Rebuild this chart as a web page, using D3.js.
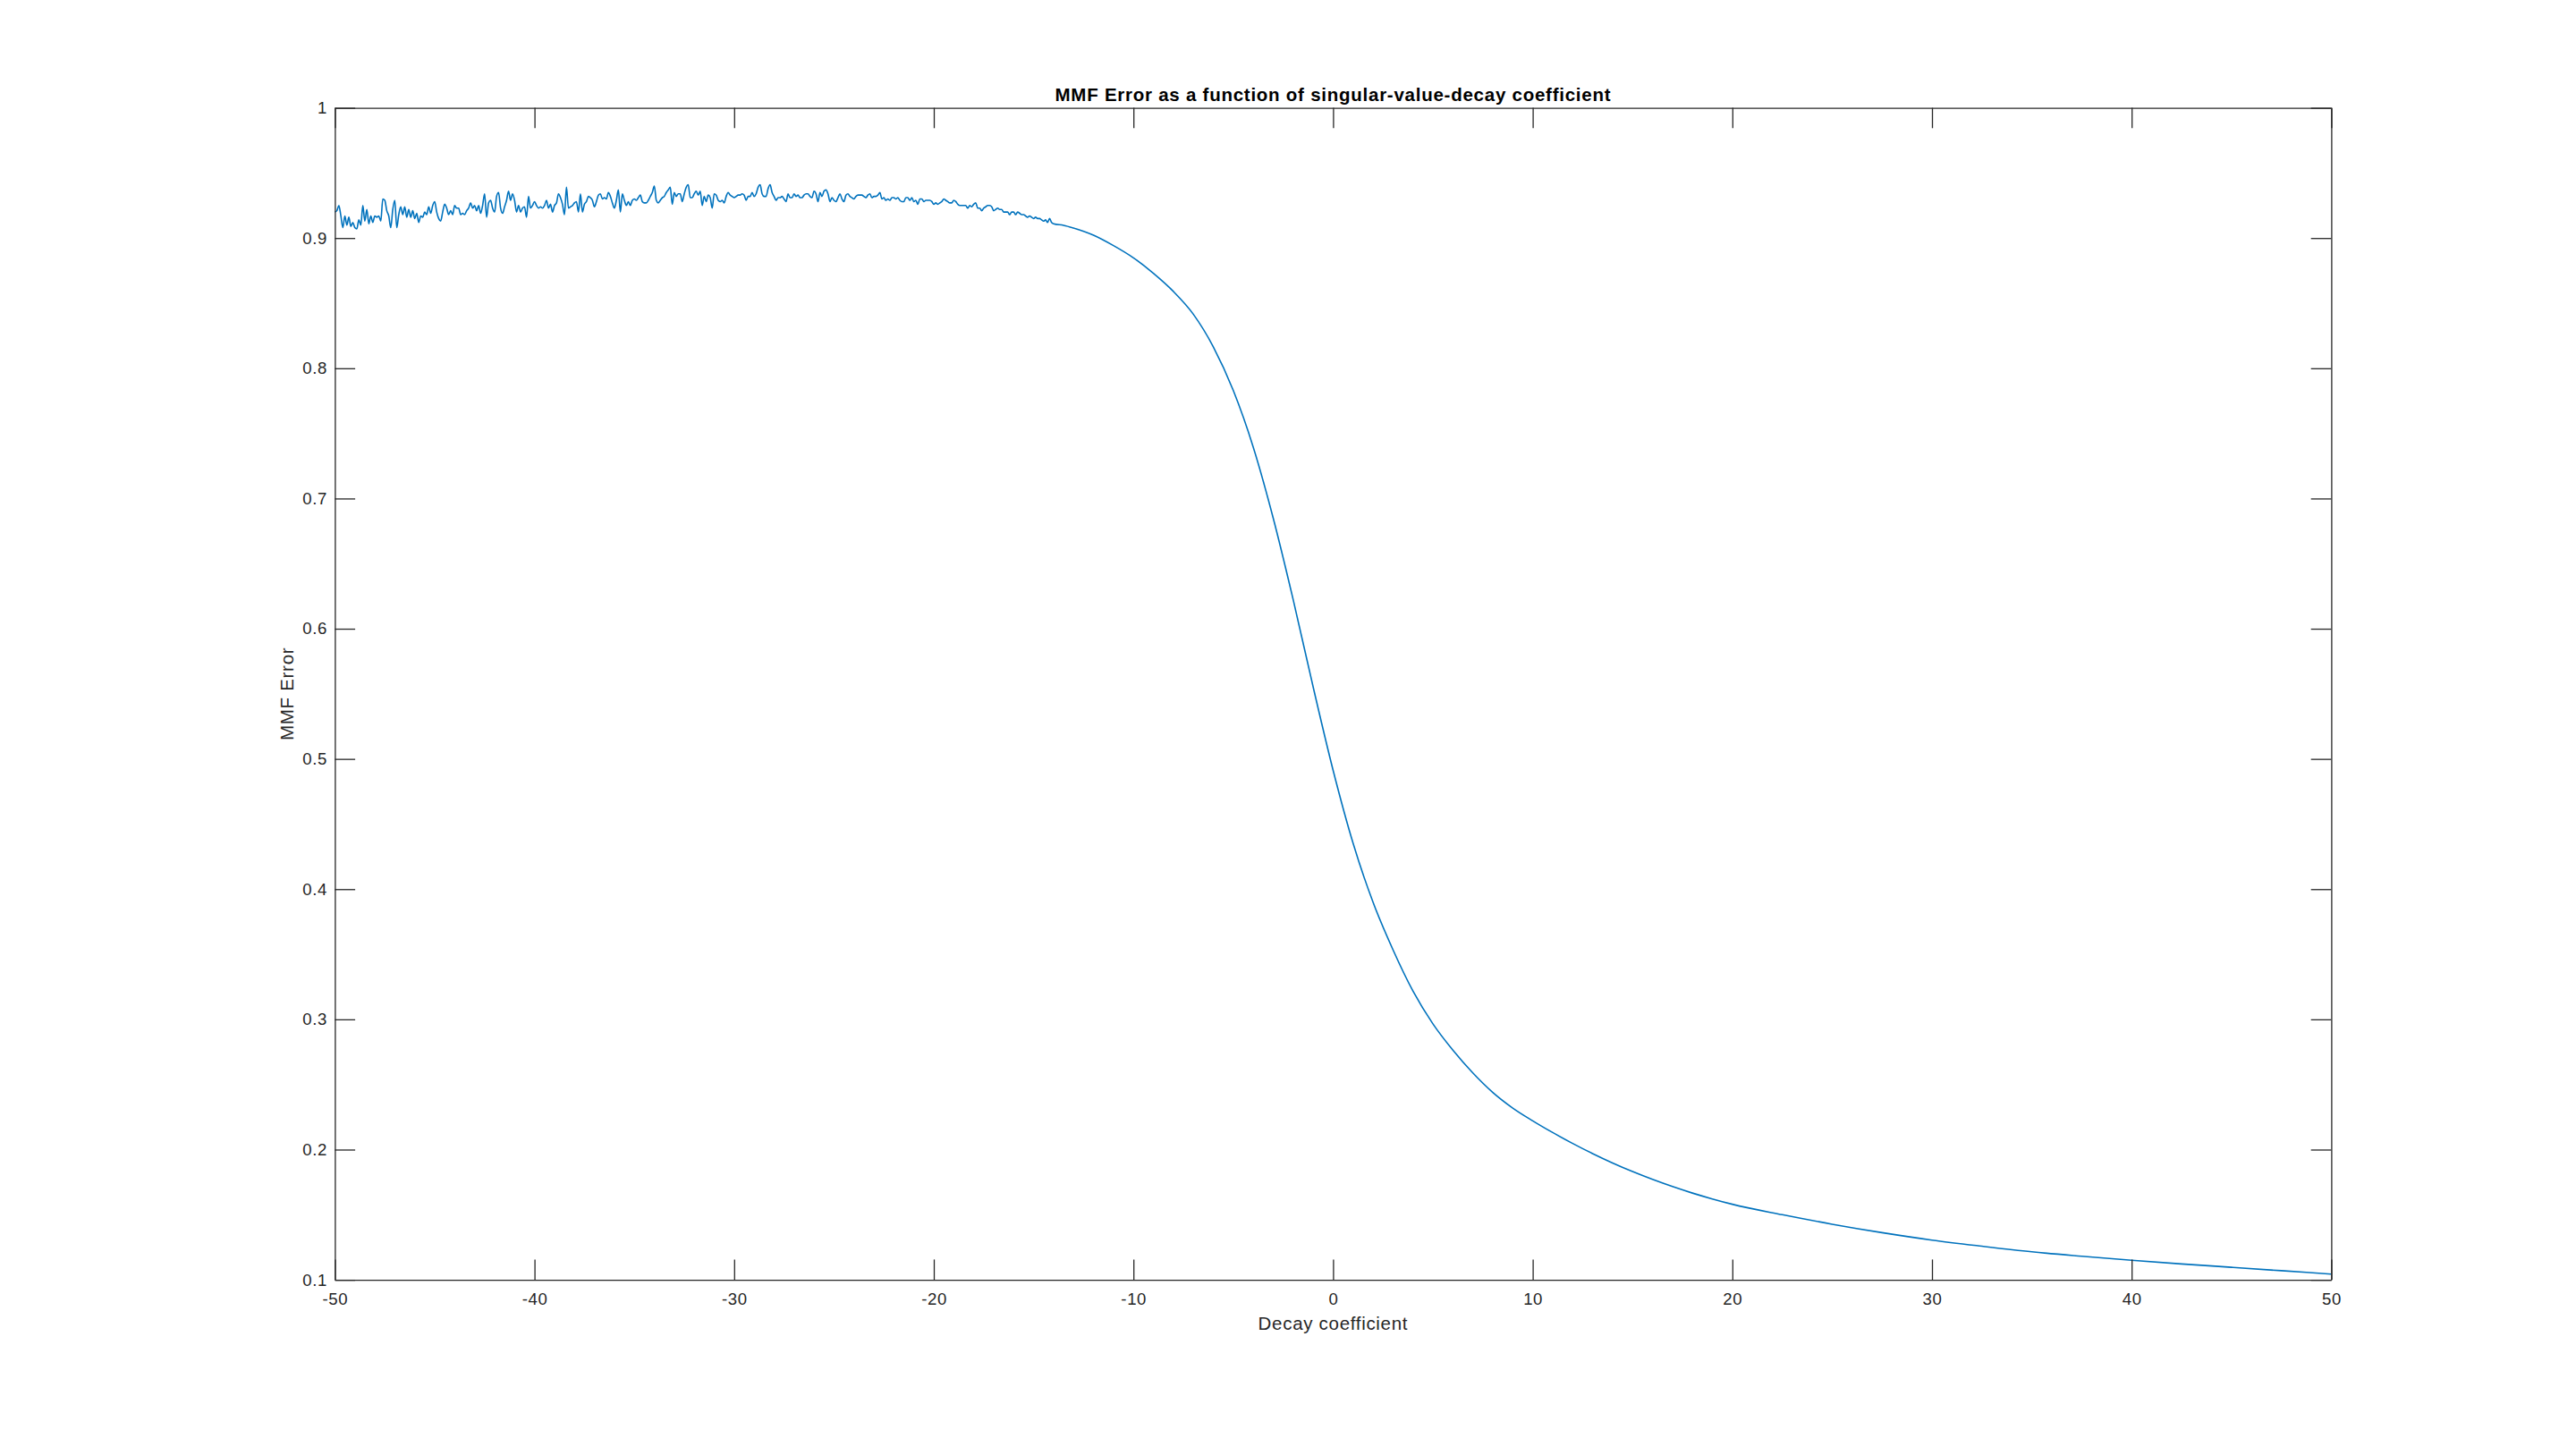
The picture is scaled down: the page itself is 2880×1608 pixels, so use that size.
<!DOCTYPE html>
<html>

<head>
  <title>MMF Error</title>
  <script src="https://d3js.org/d3.v7.min.js"></script>
  <style>
    body {
      margin: 0;
      background: #ffffff;
    }

    svg {
      display: block;
      font-family: "Liberation Sans", Arial, Helvetica, sans-serif;
    }
  </style>
</head>

<body>
  <script>
    // sweep -50:0.1:-14, noisy part of the curve
    const noisyStart = -50;
    const noisyStep = 0.1;
    const noisyError = [
      0.920, 0.921, 0.925, 0.917, 0.908, 0.917, 0.910, 0.916, 0.909, 0.912,
      0.908, 0.907, 0.914, 0.910, 0.925, 0.913, 0.922, 0.911, 0.917, 0.912,
      0.917, 0.916, 0.917, 0.913, 0.930, 0.929, 0.921, 0.917, 0.908, 0.922,
      0.929, 0.908, 0.918, 0.924, 0.918, 0.924, 0.916, 0.922, 0.916, 0.921,
      0.915, 0.919, 0.912, 0.917, 0.916, 0.920, 0.918, 0.924, 0.919, 0.925,
      0.928, 0.920, 0.915, 0.913, 0.920, 0.926, 0.923, 0.918, 0.921, 0.918,
      0.925, 0.923, 0.923, 0.918, 0.919, 0.918, 0.921, 0.923, 0.927, 0.923,
      0.925, 0.921, 0.925, 0.919, 0.925, 0.934, 0.916, 0.927, 0.929, 0.923,
      0.920, 0.932, 0.935, 0.923, 0.919, 0.924, 0.929, 0.936, 0.929, 0.934,
      0.929, 0.920, 0.925, 0.920, 0.923, 0.924, 0.916, 0.932, 0.923, 0.925,
      0.928, 0.925, 0.923, 0.924, 0.923, 0.925, 0.929, 0.923, 0.926, 0.920,
      0.925, 0.927, 0.934, 0.931, 0.926, 0.918, 0.939, 0.923, 0.924, 0.925,
      0.927, 0.928, 0.920, 0.934, 0.920, 0.926, 0.928, 0.932, 0.931, 0.929,
      0.924, 0.928, 0.933,
      0.934, 0.930, 0.931, 0.930, 0.935, 0.932, 0.927, 0.923, 0.929, 0.937,
      0.920, 0.934, 0.929, 0.925, 0.928, 0.925, 0.929, 0.930, 0.929, 0.931,
      0.933, 0.928, 0.927, 0.927, 0.929, 0.932, 0.935, 0.940, 0.929, 0.927,
      0.929, 0.931, 0.932, 0.935, 0.937, 0.939, 0.926, 0.935, 0.932, 0.934,
      0.934, 0.928, 0.934, 0.939, 0.941, 0.931, 0.931, 0.934, 0.936, 0.933,
      0.936, 0.925, 0.932, 0.928, 0.933, 0.931, 0.923, 0.934, 0.933, 0.929,
      0.928, 0.929, 0.927, 0.932, 0.935, 0.933, 0.932, 0.931, 0.932, 0.933,
      0.933, 0.934, 0.933, 0.929, 0.932, 0.932, 0.935, 0.932, 0.934, 0.939,
      0.941, 0.934, 0.932, 0.932, 0.938, 0.941, 0.935, 0.932, 0.929, 0.931,
      0.931, 0.932, 0.930, 0.928, 0.934, 0.931, 0.931, 0.934, 0.932, 0.933,
      0.931, 0.931, 0.933, 0.934, 0.934, 0.932, 0.931, 0.936, 0.934, 0.928,
      0.935, 0.932, 0.936, 0.937, 0.934, 0.928, 0.931, 0.929, 0.928, 0.931,
      0.934, 0.930, 0.928, 0.933, 0.934, 0.932, 0.931, 0.930, 0.932, 0.933,
      0.933, 0.933, 0.932, 0.931, 0.933, 0.934, 0.931, 0.932, 0.932, 0.933,
      0.935, 0.930, 0.931, 0.929, 0.930, 0.929, 0.931, 0.931, 0.930, 0.931,
      0.929, 0.928, 0.928, 0.931, 0.931, 0.929, 0.931, 0.928, 0.929, 0.926,
      0.930, 0.930, 0.928, 0.929, 0.929, 0.929, 0.928, 0.926, 0.927, 0.926,
      0.927, 0.928, 0.930, 0.929, 0.928, 0.927, 0.927, 0.929, 0.928, 0.926,
      0.925, 0.925, 0.925, 0.925, 0.923, 0.925, 0.924, 0.926, 0.927, 0.923,
      0.923, 0.921, 0.923, 0.924, 0.925, 0.925, 0.924, 0.921, 0.922, 0.923,
      0.922, 0.922, 0.920, 0.920, 0.920, 0.918, 0.920, 0.920, 0.918, 0.920,
      0.919, 0.918, 0.918, 0.917, 0.916, 0.917, 0.916, 0.915, 0.916, 0.915,
      0.915, 0.914, 0.913, 0.914, 0.912, 0.915, 0.912, 0.911
    ];

    // smooth part of the curve, -13.5 .. 50
    const smoothX = [
      -13.5, -13, -12, -11, -10, -9, -8, -7, -6, -5,
      -4, -3, -2, -1, 0, 1, 2, 3, 4, 5,
      6, 7, 8, 9, 10, 11, 12, 13, 14, 15,
      16, 17, 18, 19, 20, 22.5, 25, 27.5, 30, 32.5,
      35, 37.5, 40, 42.5, 45, 47.5, 50
    ];
    const smoothError = [
      0.9098, 0.9077, 0.9022, 0.8942, 0.8848, 0.8729, 0.8590, 0.8415, 0.8165, 0.7830,
      0.7395, 0.6850, 0.6224, 0.5554, 0.4914, 0.4354, 0.3900, 0.3535, 0.3218, 0.2966,
      0.2764, 0.2589, 0.2439, 0.2319, 0.2221, 0.2131, 0.2047, 0.1969, 0.1897, 0.1831,
      0.1771, 0.1716, 0.1666, 0.1621, 0.1580, 0.1500, 0.1427, 0.1362, 0.1305, 0.1258,
      0.1215, 0.1181, 0.1150, 0.1122, 0.1096, 0.1070, 0.1044
    ];

    const xTicks = [-50, -40, -30, -20, -10, 0, 10, 20, 30, 40, 50];
    const yTicks = [0.1, 0.2, 0.3, 0.4, 0.5, 0.6, 0.7, 0.8, 0.9, 1];
    const yTickLabels = ["0.1", "0.2", "0.3", "0.4", "0.5", "0.6", "0.7", "0.8", "0.9", "1"];

    const titleText = "MMF Error as a function of singular-value-decay coefficient";
    const xLabelText = "Decay coefficient";
    const yLabelText = "MMF Error";

    const fullW = 2880, fullH = 1608;
    const margin = { top: 120.6, right: 273.6, bottom: 176.9, left: 374.4 };
    const width = fullW - margin.left - margin.right;
    const height = fullH - margin.top - margin.bottom;
    const tickLen = 22.7;
    const axisColor = "#262626";

    const svg = d3.select("body")
      .append("svg")
      .attr("width", fullW)
      .attr("height", fullH)
      .append("g")
      .attr("transform", `translate(${margin.left}, ${margin.top})`);

    const xScale = d3.scaleLinear().domain([-50, 50]).range([0, width]);
    const yScale = d3.scaleLinear().domain([0.1, 1]).range([height, 0]);

    // build the point list
    const points = [];
    noisyError.forEach((v, i) => {
      points.push({ x: noisyStart + i * noisyStep, y: v });
    });
    smoothX.forEach((x, i) => {
      points.push({ x: x, y: smoothError[i] });
    });

    const line = d3.line()
      .x(d => xScale(d.x))
      .y(d => yScale(d.y))
      .curve(d3.curveMonotoneX);

    svg.append("path")
      .datum(points)
      .attr("fill", "none")
      .attr("stroke", "#0072BD")
      .attr("stroke-width", 1.6)
      .attr("stroke-linejoin", "round")
      .attr("d", line);

    // axes - ticks point inward on all four sides
    const styleAxis = g => {
      g.select(".domain").attr("stroke", axisColor).attr("stroke-width", 1.3);
      g.selectAll(".tick line").attr("stroke", axisColor).attr("stroke-width", 1.3);
      g.selectAll(".tick text")
        .attr("fill", "#262626")
        .style("font-size", "18.6px")
        .style("letter-spacing", "0.6px");
    };

    svg.append("g")
      .attr("transform", `translate(0,${height})`)
      .call(d3.axisBottom(xScale)
        .tickValues(xTicks)
        .tickSizeInner(-tickLen)
        .tickSizeOuter(0)
        .tickPadding(15)
        .tickFormat(d => d))
      .call(styleAxis);

    svg.append("g")
      .call(d3.axisTop(xScale)
        .tickValues(xTicks)
        .tickSizeInner(-tickLen)
        .tickSizeOuter(0)
        .tickFormat(""))
      .call(styleAxis);

    svg.append("g")
      .call(d3.axisLeft(yScale)
        .tickValues(yTicks)
        .tickSizeInner(-tickLen)
        .tickSizeOuter(0)
        .tickPadding(8.4)
        .tickFormat((d, i) => yTickLabels[i]))
      .call(styleAxis);

    svg.append("g")
      .attr("transform", `translate(${width},0)`)
      .call(d3.axisRight(yScale)
        .tickValues(yTicks)
        .tickSizeInner(-tickLen)
        .tickSizeOuter(0)
        .tickFormat(""))
      .call(styleAxis);

    // title and labels
    svg.append("text")
      .attr("x", width / 2)
      .attr("y", -7.3)
      .attr("text-anchor", "middle")
      .attr("fill", "#000")
      .style("font-size", "20.5px")
      .style("font-weight", "bold")
      .style("letter-spacing", "0.75px")
      .text(titleText);

    svg.append("text")
      .attr("x", width / 2)
      .attr("y", height + 55.8)
      .attr("text-anchor", "middle")
      .attr("fill", "#262626")
      .style("font-size", "20.5px")
      .style("letter-spacing", "0.7px")
      .text(xLabelText);

    svg.append("text")
      .attr("transform", `translate(${320 - margin.left + 7.5},${height / 2}) rotate(-90)`)
      .attr("text-anchor", "middle")
      .attr("fill", "#262626")
      .style("font-size", "20.5px")
      .style("letter-spacing", "0.7px")
      .text(yLabelText);
  </script>
</body>

</html>
